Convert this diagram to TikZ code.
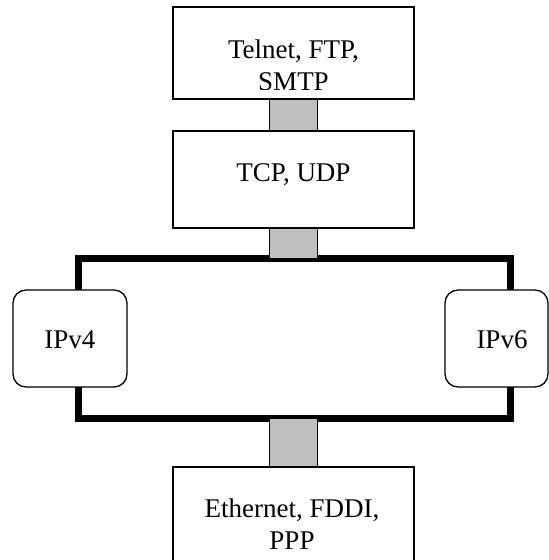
\documentclass[tikz,border=0pt]{standalone}
\usepackage{fontspec}
\setmainfont{Liberation Serif}
\begin{document}
\begin{tikzpicture}[x=1pt,y=-1pt,
  layer/.style={draw=black, line width=1.3pt, fill=white, rectangle,
    minimum width=241pt, inner sep=0pt},
  proto/.style={draw=black, line width=1.3pt, fill=white, rectangle,
    rounded corners=13pt, minimum width=114pt, minimum height=97pt, inner sep=0pt},
  link/.style={draw=black, line width=1.3pt, fill=black!25},
  bus/.style={line width=7pt, line cap=rect},
  label/.style={font=\fontsize{27}{32}\selectfont, align=center, inner sep=0pt}]
\clip (0,0) rectangle (549,560);

% stacked layer boxes
\node[layer, minimum height=92pt] (app) at (293.5,53) {};
\node[layer, minimum height=97pt] (tcp) at (293.5,179.5) {};
\node[layer, minimum height=120pt] (net) at (293.5,527) {};

% the dual-stack frame joining IPv4 and IPv6
\coordinate (ftl) at (78.5,258.5);
\coordinate (fbr) at (510,418.5);
\draw[bus] (ftl) rectangle (fbr);

% grey links between the layers
\path[link] ([xshift=-24pt]app.south) rectangle ([xshift=24pt]tcp.north);
\path[link] ([xshift=-24pt]tcp.south) rectangle ([xshift=24pt]tcp.south |- ftl);
\path[link] ([xshift=-24pt]tcp.south |- fbr) rectangle ([xshift=24pt]net.north);

% IP versions sitting on the frame
\node[proto] (v4) at (70,338.5) {};
\node[proto, minimum width=103pt] (v6) at (496.5,338.5) {};

% labels (the application text is cut off by the box margin)
\begin{scope}
  \clip (173,7) rectangle (414,89);
  \node[label, anchor=base] (apptxt) at (293.5,90) {Telnet, FTP,\\SMTP};
\end{scope}
\node[label, anchor=base] (tcptxt) at (293.5,181) {TCP, UDP};
\node[label, anchor=base] (v4txt) at (70,348) {IPv4};
\node[label, anchor=base] (v6txt) at (502,348) {IPv6};
\node[label, anchor=base] (nettxt) at (292,549) {Ethernet, FDDI,\\PPP};
\end{tikzpicture}
\end{document}
